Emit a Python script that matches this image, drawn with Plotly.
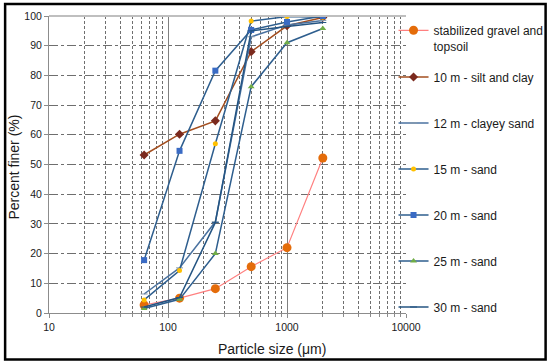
import plotly.graph_objects as go

# ---- data ----
sizes = [63, 125, 250, 500, 1000, 2000]
stabilized = [2.7, 5.0, 8.2, 15.6, 22.0, 52.2]
silt_clay_10 = [53.2, 60.2, 64.7, 88.0, 96.7, 99.5]
clayey_sand_12 = [6.4, 15.2, 30.7, 93.0, 97.0, 98.5]
sand_15 = [4.4, 14.3, 57.0, 98.3, 99.8, 99.6]
sand_20 = [17.8, 54.6, 81.6, 95.3, 98.0, 100.0]
sand_25 = [1.5, 4.6, 20.0, 76.2, 91.0, 95.8]
sand_30 = [2.0, 5.2, 30.5, 95.0, 96.5, 97.8]

x_ticks = [10, 100, 1000, 10000]
x_ticktext = ["10", "100", "1000", "10000"]
x_minor = [m * 10 ** d for d in range(1, 4) for m in range(2, 10)]

# ---- layout geometry (pixels) ----
W, H = 550, 364
L, R, T, B = 48.5, 143.5, 16, 51
PW, PH = W - L - R, H - T - B


def px_x(p):
    return (p - L) / PW


def px_y(p):
    return (H - B - p) / PH


FONT = "Liberation Sans, Arial, sans-serif"
BLUE = "#2E5E8E"

fig = go.Figure()

fig.add_trace(go.Scatter(
    x=sizes, y=stabilized, name="stabilized gravel and<br>topsoil", mode="lines+markers",
    line=dict(color="#FF8080", width=1.2),
    marker=dict(symbol="circle", size=9, color="#E46C0A"),
    legend="legend2"))

series = [
    ("10 m - silt and clay", silt_clay_10, "#A34E1F", dict(symbol="diamond", size=7, color="#7B2A1E")),
    ("12 m - clayey sand", clayey_sand_12, "#4A72A0", dict(symbol="line-ew", size=5, color="#8899AA", line=dict(width=1, color="#8899AA"))),
    ("15 m - sand", sand_15, BLUE, dict(symbol="circle", size=5, color="#FFC000")),
    ("20 m - sand", sand_20, BLUE, dict(symbol="square", size=6, color="#3A6BC4")),
    ("25 m - sand", sand_25, BLUE, dict(symbol="triangle-up", size=6, color="#70AD47")),
    ("30 m - sand", sand_30, "#245482", dict(symbol="line-ew", size=5, color="#245482", line=dict(width=1, color="#245482"))),
]
for i, (name, vals, lc, mk) in enumerate(series):
    fig.add_trace(go.Scatter(
        x=sizes, y=vals, name=name, mode="lines+markers",
        line=dict(color=lc, width=1.5), marker=mk,
        legendgroup=f"g{i}", legend="legend"))

fig.update_layout(
    width=W, height=H,
    margin=dict(l=L, r=R, t=T, b=B, autoexpand=False),
    paper_bgcolor="white", plot_bgcolor="white",
    font=dict(family=FONT, size=12, color="#1a1a1a"),
    xaxis=dict(
        type="log", range=[1, 4],
        tickmode="array", tickvals=x_ticks, ticktext=x_ticktext,
        tickfont=dict(size=10.5, color="#1a1a1a"),
        showgrid=True, gridcolor="#808080", gridwidth=1,
        showline=True, linecolor="#8c8c8c", linewidth=1,
        ticks="outside", ticklen=4, tickcolor="#8c8c8c",
        minor=dict(tickmode="array", tickvals=x_minor, ticks="outside", ticklen=3,
                   tickcolor="#8c8c8c", showgrid=True, gridcolor="#6e6e6e",
                   griddash="3px,2px", gridwidth=1),
        zeroline=False, automargin=False,
    ),
    yaxis=dict(
        range=[0, 100], dtick=10, tick0=0,
        tickfont=dict(size=10.5, color="#1a1a1a"),
        showgrid=True, gridcolor="#6e6e6e", griddash="dashdot", gridwidth=1,
        showline=True, linecolor="#8c8c8c", linewidth=1,
        ticks="outside", ticklen=4, tickcolor="#8c8c8c",
        zeroline=False, automargin=False,
    ),
    legend=dict(
        x=px_x(394), y=px_y(62.5), xanchor="left", yanchor="top",
        traceorder="grouped", tracegroupgap=27,
        font=dict(size=12, color="#1a1a1a"), bgcolor="rgba(0,0,0,0)",
        itemwidth=30,
    ),
    legend2=dict(
        x=px_x(394), y=px_y(16), xanchor="left", yanchor="top",
        font=dict(size=12, color="#1a1a1a"), bgcolor="rgba(0,0,0,0)",
        valign="top", itemwidth=30,
    ),
    showlegend=True,
)

# axis titles
fig.add_annotation(text="Particle size (μm)", x=px_x(272), y=px_y(349),
                   xref="paper", yref="paper", showarrow=False,
                   font=dict(size=14, color="#1a1a1a"), xanchor="center", yanchor="middle")
fig.add_annotation(text="Percent finer (%)", x=px_x(13), y=px_y(167),
                   xref="paper", yref="paper", showarrow=False, textangle=-90,
                   font=dict(size=14, color="#1a1a1a"), xanchor="center", yanchor="middle")

# top border of plot area
fig.add_shape(type="line", xref="paper", yref="paper", x0=0, x1=1, y0=1, y1=1,
              line=dict(color="#BFBFBF", width=2))
# outer chart frame
fig.add_shape(type="rect", xref="paper", yref="paper",
              x0=px_x(4.5), x1=px_x(546.5), y0=px_y(359.5), y1=px_y(4),
              line=dict(color="black", width=2.5), layer="above")

fig.write_html(
    "out.html",
    config={"displayModeBar": False},
    post_script="document.body.style.margin='0px';document.body.style.overflow='hidden';",
)
